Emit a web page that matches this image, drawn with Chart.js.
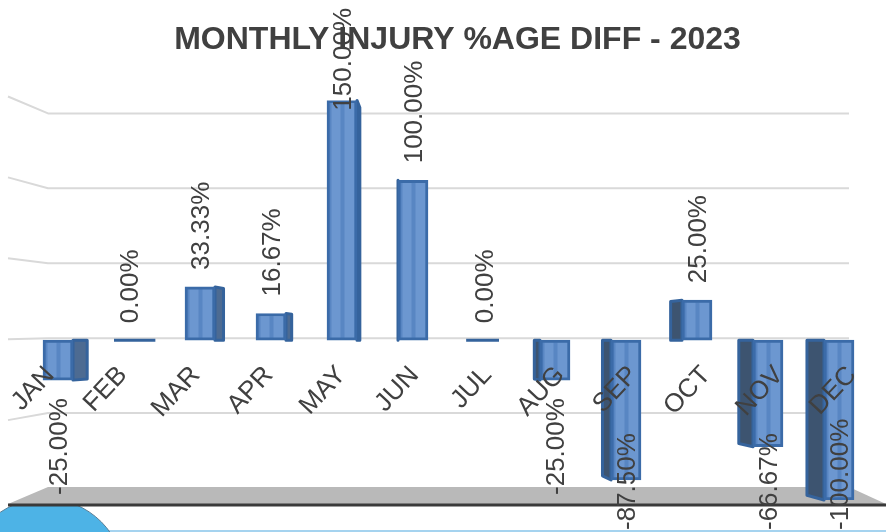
<!DOCTYPE html>
<html>
<head>
<meta charset="utf-8">
<style>
  html, body { margin: 0; padding: 0; background: #fff; }
  #wrap { width: 886px; height: 532px; position: relative; overflow: hidden; }
</style>
<script src="https://cdn.jsdelivr.net/npm/chart.js@4"></script>
</head>
<body>
<div id="wrap"><canvas id="chart" width="886" height="532"></canvas></div>
<script>
const months = ['JAN', 'FEB', 'MAR', 'APR', 'MAY', 'JUN', 'JUL', 'AUG', 'SEP', 'OCT', 'NOV', 'DEC'];
const injuryDiff = [-25, 0, 33.33, 16.67, 150, 100, 0, -25, -87.5, 25, -66.67, -100];
const gridValues = [150, 100, 50, 0, -50];
const floorValue = -100;

const TEXT = '#404040';
const FONT = '"Liberation Sans", Arial, sans-serif';

// fake 3D look of the original: side faces, back wall stubs, floor
const fake3d = {
  id: 'fake3d',
  afterLayout(chart) {
    // title sits a bit right of the plot centre
    chart.titleBlock.left += 9;
    chart.titleBlock.right += 9;
    // month labels spread out with the perspective
    chart.scales.x.getLabelItems(chart.chartArea).forEach(item => {
      const t = item.options.translation;
      t[0] += (t[0] - 230) * 0.027;
    });
  },
  beforeDraw(chart) {
    // edge of the logo that is cut off under the chart
    const { ctx } = chart;
    ctx.save();
    ctx.fillStyle = '#a5d3ef';
    ctx.fillRect(100, 530, 786, 2);
    ctx.fillStyle = '#4db3e6';
    ctx.strokeStyle = '#5c7f96';
    ctx.lineWidth = 1;
    ctx.beginPath();
    ctx.arc(45, 578, 79.5, 0, Math.PI * 2);
    ctx.fill();
    ctx.stroke();
    ctx.restore();
  },
  beforeDatasetsDraw(chart) {
    const { ctx, scales } = chart;
    const g = scales.yGrid;
    const wallL = 48, wallR = 849, edgeL = 8;
    ctx.save();
    ctx.lineJoin = 'round';
    const floorY = g.getPixelForValue(floorValue);
    ctx.fillStyle = '#ffffff';
    ctx.fillRect(0, floorY, 886, 17);
    ctx.fillStyle = '#b9b9b9';
    ctx.beginPath();
    ctx.moveTo(edgeL, floorY + 16);
    ctx.lineTo(wallL, floorY - 1);
    ctx.lineTo(wallR, floorY - 1);
    ctx.lineTo(886, floorY + 16);
    ctx.closePath();
    ctx.fill();
    ctx.strokeStyle = '#d9d9d9';
    ctx.lineWidth = 2;
    gridValues.forEach(v => {
      const y = g.getPixelForValue(v);
      ctx.beginPath();
      ctx.moveTo(edgeL, y + (y - 325) * 0.08);
      ctx.lineTo(wallL, y);
      ctx.lineTo(wallR, y);
      ctx.stroke();
    });
    ctx.strokeStyle = '#3a3a3a';
    ctx.lineWidth = 3;
    ctx.beginPath();
    ctx.moveTo(edgeL, floorY + 17);
    ctx.lineTo(886, floorY + 17);
    ctx.stroke();

    // side faces go under the bars
    const base = scales.y.getPixelForValue(0);
    chart.getDatasetMeta(0).data.forEach(bar => {
      const half = bar.width / 2;
      const left = bar.x < 413;
      const front = left ? bar.x + half : bar.x - half;
      const back = front + (413 - bar.x) * 0.04;
      const backY = bar.y + (base - bar.y) * 0.03;
      ctx.strokeStyle = '#35639c';
      ctx.lineWidth = 3;
      if (Math.abs(bar.y - base) < 1) {
        // zero value, only a thin plate
        ctx.beginPath();
        ctx.moveTo(Math.min(bar.x - half, back), base);
        ctx.lineTo(Math.max(bar.x + half, back), base);
        ctx.stroke();
        return;
      }
      ctx.fillStyle = left ? '#4d6b92' : '#3d5470';
      ctx.beginPath();
      ctx.moveTo(front, bar.y);
      ctx.lineTo(back, backY);
      ctx.lineTo(back, base);
      ctx.lineTo(front, base);
      ctx.closePath();
      ctx.fill();
      ctx.stroke();
    });
    ctx.restore();
  },
  afterDatasetsDraw(chart) {
    const { ctx, scales } = chart;
    const base = scales.y.getPixelForValue(0);
    ctx.save();
    // darker bands down the front face
    chart.getDatasetMeta(0).data.forEach(bar => {
      if (Math.abs(bar.y - base) < 1) return;
      const top = Math.min(bar.y, base) + 2;
      const h = Math.abs(bar.y - base) - 4;
      ctx.fillStyle = 'rgba(60,110,175,0.4)';
      ctx.fillRect(bar.x - 1.5, top, 4, h);
      ctx.fillRect(bar.x - bar.width / 2 + 1.5, top, 3, h);
    });
    // value labels, kept inside the picture like the original
    ctx.fillStyle = TEXT;
    ctx.font = '26px ' + FONT;
    ctx.textBaseline = 'middle';
    chart.getDatasetMeta(0).data.forEach((bar, i) => {
      const v = injuryDiff[i];
      const text = v.toFixed(2) + '%';
      const w = ctx.measureText(text).width;
      let top, bottom;
      if (v >= 0) {
        bottom = bar.y - 17;
        top = bottom - w;
        if (top < 8) { top = 8; bottom = top + w; }
      } else {
        top = bar.y + 18;
        bottom = top + w;
        if (bottom > 530) { bottom = 530; top = bottom - w; }
      }
      ctx.save();
      ctx.translate(bar.x + 2, bottom);
      ctx.rotate(-Math.PI / 2);
      ctx.textAlign = 'left';
      ctx.fillText(text, 0, 0);
      ctx.restore();
    });
    ctx.restore();
  }
};

new Chart(document.getElementById('chart'), {
  type: 'bar',
  data: {
    labels: months,
    datasets: [{
      label: 'Injury diff',
      data: injuryDiff,
      yAxisID: 'y',
      backgroundColor: '#6c97d0',
      borderColor: '#3b6ba8',
      borderWidth: 3,
      borderSkipped: false,
      barThickness: 30
    }]
  },
  plugins: [fake3d],
  options: {
    responsive: false,
    animation: false,
    layout: { padding: { left: 22.5, right: 11.5, top: 0, bottom: 32 } },
    plugins: {
      legend: { display: false },
      tooltip: { enabled: false },
      title: {
        display: true,
        text: 'MONTHLY INJURY %AGE DIFF - 2023',
        color: TEXT,
        font: { family: FONT, size: 32, weight: 'bold' },
        padding: { top: 21, bottom: 41 }
      }
    },
    scales: {
      x: {
        position: { y: 0 },
        grid: { display: false },
        border: { display: false },
        ticks: {
          color: TEXT,
          font: { family: FONT, size: 26 },
          maxRotation: 47,
          minRotation: 47,
          padding: 12,
          labelOffset: -3,
          z: 1,
          autoSkip: false
        }
      },
      y: { display: false, min: -100, max: 150 },
      yGrid: { display: false, position: 'right', min: -108, max: 158.67 }
    }
  }
});
</script>
</body>
</html>
